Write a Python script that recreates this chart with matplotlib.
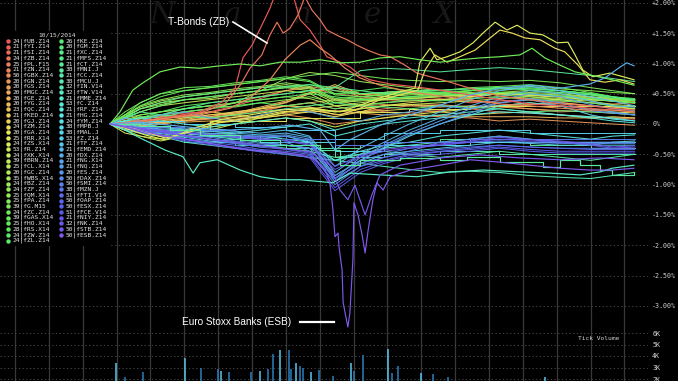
import matplotlib.pyplot as plt
from matplotlib.colors import hsv_to_rgb
from matplotlib.patches import Rectangle

plt.rcParams['font.family'] = 'DejaVu Sans Mono'

# legend entries (left column then right column)
left_names = ['fUB.Z14', 'fYI.Z14', 'fSI.Z14', 'fZB.Z14', 'fPL.F15', 'fZN.Z14', 'fGBX.Z14', 'fGN.Z14',
              'fGS.Z14', 'fMGC.Z14', 'fGE.Z14', 'fYG.Z14', 'fQC.Z14', 'fKED.Z14', 'fGJ.Z14', 'fZM.Z14',
              'fGA.Z14', 'fRR.X14', 'fZS.X14', 'fR.Z14', 'fXK.X14', 'fBRN.Z14', 'fCL.X14', 'fGC.Z14',
              'fWBS.X14', 'fBZ.Z14', 'fZF.Z14', 'fQM.X14', 'fPA.Z14', 'fG.M15', 'fZC.Z14', 'fGAS.X14',
              'fHO.X14', 'fRS.X14', 'fZW.Z14', 'fZL.Z14']
left_counts = [24, 21, 21, 24, 25, 21, 50, 20, 20, 20, 20, 20, 23, 21, 20, 24, 20, 25, 24, 53,
               24, 39, 25, 20, 35, 24, 24, 25, 25, 39, 24, 39, 25, 28, 24, 24]
right_names = ['fKE.Z14', 'fGM.Z14', 'fXC.Z14', 'fMFS.Z14', 'fCT.Z14', 'fMNI.J', 'fCC.Z14', 'fMCU.J',
               'fIN.V14', 'fTW.V14', 'fMME.Z14', 'fC.Z14', 'fRF.Z14', 'fHG.Z14', 'fYM.Z14', 'fMPB.J',
               'fMAL.J', 'fZ.Z14', 'fTF.Z14', 'fEMD.Z14', 'fDX.Z14', 'fNG.X14', 'fNQ.Z14', 'fES.Z14',
               'fDAX.Z14', 'fSMI.Z14', 'fMZN.J', 'fFTI.V14', 'fOAP.Z14', 'fESX.Z14', 'fFCE.V14',
               'fNIY.Z14', 'fNK.Z14', 'fSTB.Z14', 'fESB.Z14']
right_counts = [26, 20, 21, 21, 21, 38, 21, 38, 32, 32, 21, 53, 21, 21, 24, 38, 38, 53, 21, 21,
                20, 21, 21, 20, 50, 50, 38, 51, 50, 50, 51, 21, 32, 50, 50]

# common time grid (hours, ET) and % change for most contracts
T = [2.8, 3.25, 3.7, 4.3, 5.0, 5.75, 6.5, 7.25, 8.0, 8.7, 9.45, 10.2, 10.9, 11.65, 12.55, 13.45,
     14.3, 15.2, 16.1, 17.0, 17.65, 18.3]
grid_rows = {
    'fYI.Z14': [0, 0.05, 0.1, 0.12, 0.18, 0.2, 0.3, 0.42, 0.55, 0.6, 0.5, 0.45, 0.4, 0.38, 0.42, 0.35, 0.38, 0.4, 0.36, 0.3, 0.28, 0.25],
    'fSI.Z14': [0, -0.05, 0.02, 0.08, 0.05, 0.1, 0.15, 0.2, 0.3, 0.35, 0.25, 0.3, 0.2, 0.18, 0.22, 0.25, 0.2, 0.18, 0.15, 0.12, 0.1, 0.08],
    'fPL.F15': [0, 0.08, 0.12, 0.1, 0.15, 0.12, 0.2, 0.25, 0.3, 0.28, 0.15, 0.2, 0.25, 0.3, 0.32, 0.28, 0.3, 0.25, 0.2, 0.22, 0.18, 0.2],
    'fGBX.Z14': [0, 0.05, 0.1, 0.15, 0.2, 0.25, 0.35, 0.45, 0.55, 0.62, 0.55, 0.5, 0.45, 0.42, 0.4, 0.38, 0.35, 0.4, 0.38, 0.35, 0.33, 0.35],
    'fGN.Z14': [0, -0.03, 0.05, 0.0, 0.05, 0.08, 0.12, 0.1, 0.15, 0.1, 0.0, 0.05, 0.1, 0.15, 0.12, 0.1, 0.05, 0.08, 0.05, 0.02, 0.0, -0.02],
    'fGS.Z14': [0, 0.03, 0.08, 0.12, 0.1, 0.15, 0.18, 0.22, 0.3, 0.35, 0.4, 0.3, 0.32, 0.3, 0.28, 0.3, 0.28, 0.25, 0.22, 0.2, 0.18, 0.15],
    'fMGC.Z14': [0, 0.02, -0.05, 0.0, 0.05, 0.1, 0.15, 0.25, 0.35, 0.5, 0.6, 0.45, 0.5, 0.55, 0.5, 0.45, 0.5, 0.48, 0.45, 0.42, 0.4, 0.38],
    'fGE.Z14': [0, 0.0, 0.02, 0.02, 0.03, 0.05, 0.08, 0.12, 0.18, 0.2, 0.22, 0.18, 0.15, 0.15, 0.14, 0.12, 0.12, 0.12, 0.1, 0.1, 0.1, 0.1],
    'fYG.Z14': [0, 0.05, -0.02, 0.03, 0.08, 0.12, 0.18, 0.28, 0.38, 0.52, 0.62, 0.48, 0.52, 0.56, 0.5, 0.46, 0.52, 0.5, 0.46, 0.44, 0.42, 0.4],
    'fQC.Z14': [0, 0.03, -0.03, 0.02, 0.06, 0.1, 0.16, 0.26, 0.36, 0.5, 0.65, 0.5, 0.5, 0.54, 0.48, 0.44, 0.5, 0.47, 0.44, 0.4, 0.38, 0.36],
    'fKED.Z14': [0, 0.1, 0.05, 0.15, 0.12, 0.2, 0.15, 0.1, 0.2, 0.25, 0.3, 0.2, 0.22, 0.25, 0.2, 0.15, 0.18, 0.2, 0.15, 0.1, 0.12, 0.1],
    'fGJ.Z14': [0, -0.1, -0.05, 0.05, 0.1, 0.15, 0.2, 0.25, 0.3, 0.28, 0.2, 0.25, 0.3, 0.32, 0.3, 0.28, 0.3, 0.32, 0.35, 0.3, 0.28, 0.25],
    'fGA.Z14': [0, -0.05, -0.15, -0.2, -0.1, 0.0, 0.05, 0.1, 0.15, 0.2, 0.12, 0.2, 0.3, 0.35, 0.4, 0.45, 0.5, 0.48, 0.45, 0.4, 0.38, 0.35],
    'fRR.X14': [0, 0, -0.1, -0.1, -0.1, 0.05, 0.05, 0.05, 0.1, 0.1, 0.1, 0.2, 0.2, 0.25, 0.25, 0.3, 0.3, 0.3, 0.3, 0.3, 0.3, 0.3],
    'fR.Z14': [0, -0.15, -0.2, -0.25, -0.15, -0.05, 0.0, 0.05, 0.1, 0.05, -0.05, 0.05, 0.1, 0.15, 0.2, 0.25, 0.3, 0.35, 0.3, 0.25, 0.2, 0.18],
    'fXK.X14': [0, -0.1, -0.2, -0.28, -0.2, -0.1, 0.0, 0.1, 0.2, 0.25, 0.2, 0.25, 0.3, 0.32, 0.35, 0.38, 0.42, 0.45, 0.4, 0.35, 0.3, 0.25],
    'fBRN.Z14': [0, 0.1, 0.2, 0.3, 0.35, 0.4, 0.45, 0.5, 0.55, 0.5, 0.3, 0.32, 0.35, 0.38, 0.4, 0.42, 0.45, 0.42, 0.4, 0.38, 0.32, 0.3],
    'fCL.X14': [0, 0.12, 0.25, 0.35, 0.4, 0.42, 0.5, 0.55, 0.6, 0.55, 0.35, 0.38, 0.4, 0.42, 0.45, 0.48, 0.5, 0.48, 0.45, 0.42, 0.38, 0.35],
    'fGC.Z14': [0, 0.05, 0.15, 0.2, 0.25, 0.3, 0.35, 0.4, 0.45, 0.42, 0.3, 0.35, 0.4, 0.42, 0.45, 0.5, 0.52, 0.5, 0.48, 0.45, 0.42, 0.4],
    'fWBS.X14': [0, 0.15, 0.28, 0.38, 0.45, 0.5, 0.55, 0.6, 0.65, 0.6, 0.4, 0.42, 0.45, 0.48, 0.5, 0.52, 0.55, 0.52, 0.5, 0.45, 0.4, 0.38],
    'fBZ.Z14': [0, 0.12, 0.25, 0.32, 0.4, 0.45, 0.5, 0.55, 0.62, 0.58, 0.38, 0.4, 0.42, 0.44, 0.46, 0.5, 0.52, 0.5, 0.46, 0.42, 0.38, 0.35],
    'fZF.Z14': [0, 0.05, 0.1, 0.15, 0.2, 0.25, 0.35, 0.55, 0.75, 0.85, 0.8, 0.7, 0.65, 0.6, 0.55, 0.5, 0.48, 0.45, 0.42, 0.4, 0.38, 0.35],
    'fQM.X14': [0, 0.15, 0.3, 0.4, 0.48, 0.52, 0.58, 0.62, 0.68, 0.62, 0.42, 0.45, 0.48, 0.5, 0.52, 0.55, 0.58, 0.55, 0.52, 0.48, 0.42, 0.4],
    'fPA.Z14': [0, 0.1, 0.15, 0.2, 0.25, 0.3, 0.28, 0.35, 0.4, 0.45, 0.35, 0.4, 0.42, 0.45, 0.5, 0.55, 0.6, 0.62, 0.58, 0.55, 0.52, 0.5],
    'fG.M15': [0, 0.2, 0.35, 0.5, 0.55, 0.6, 0.65, 0.7, 0.75, 0.8, 0.85, 0.8, 0.75, 0.72, 0.7, 0.72, 0.7, 0.72, 0.68, 0.6, 0.55, 0.5],
    'fGAS.X14': [0, 0.15, 0.35, 0.5, 0.6, 0.62, 0.68, 0.72, 0.78, 0.72, 0.5, 0.5, 0.52, 0.55, 0.55, 0.6, 0.62, 0.65, 0.6, 0.52, 0.45, 0.4],
    'fHO.X14': [0, 0.12, 0.3, 0.45, 0.55, 0.6, 0.65, 0.7, 0.75, 0.7, 0.48, 0.45, 0.48, 0.5, 0.52, 0.55, 0.58, 0.6, 0.55, 0.5, 0.42, 0.38],
    'fRS.X14': [0, 0.05, 0.1, 0.2, 0.3, 0.35, 0.4, 0.45, 0.5, 0.55, 0.5, 0.55, 0.6, 0.55, 0.5, 0.55, 0.6, 0.58, 0.55, 0.5, 0.45, 0.42],
    'fZW.Z14': [0, -0.05, 0.05, 0.15, 0.25, 0.3, 0.35, 0.4, 0.45, 0.5, 0.45, 0.4, 0.42, 0.45, 0.48, 0.5, 0.52, 0.5, 0.46, 0.42, 0.38, 0.35],
    'fZL.Z14': [0, 0.05, 0.12, 0.1, 0.2, 0.25, 0.3, 0.35, 0.3, 0.35, 0.25, 0.3, 0.35, 0.4, 0.38, 0.42, 0.45, 0.4, 0.38, 0.35, 0.3, 0.28],
    'fKE.Z14': [0, 0.1, 0.2, 0.3, 0.4, 0.45, 0.5, 0.55, 0.6, 0.65, 0.55, 0.5, 0.52, 0.55, 0.56, 0.58, 0.6, 0.58, 0.55, 0.5, 0.45, 0.4],
    'fGM.Z14': [0, 0.05, 0.1, 0.15, 0.12, 0.1, 0.15, 0.2, 0.25, 0.3, 0.35, 0.3, 0.28, 0.25, 0.3, 0.28, 0.25, 0.2, 0.22, 0.2, 0.18, 0.15],
    'fXC.Z14': [0, 0.1, 0.25, 0.35, 0.45, 0.5, 0.55, 0.6, 0.62, 0.65, 0.6, 0.55, 0.5, 0.52, 0.55, 0.58, 0.6, 0.56, 0.52, 0.48, 0.44, 0.4],
    'fMFS.Z14': [0, 0, -0.1, -0.1, -0.15, -0.15, -0.2, -0.2, -0.25, -0.25, -0.4, -0.35, -0.3, -0.3, -0.25, -0.3, -0.3, -0.35, -0.35, -0.4, -0.4, -0.4],
    'fCT.Z14': [0, 0.1, 0.2, 0.15, 0.25, 0.35, 0.4, 0.45, 0.5, 0.55, 0.6, 0.88, 0.92, 0.9, 0.86, 0.9, 0.93, 0.9, 0.85, 0.8, 0.75, 0.7],
    'fCC.Z14': [0, -0.05, -0.1, -0.15, -0.2, -0.25, -0.3, -0.35, -0.4, -0.45, -0.55, -0.5, -0.45, -0.5, -0.55, -0.5, -0.45, -0.5, -0.55, -0.6, -0.55, -0.5],
    'fMCU.J': [0, 0, -0.15, -0.15, -0.3, -0.3, -0.35, -0.35, -0.4, -0.4, -0.55, -0.55, -0.5, -0.5, -0.45, -0.45, -0.5, -0.5, -0.5, -0.5, -0.5, -0.5],
    'fIN.V14': [0, -0.05, -0.1, -0.2, -0.3, -0.35, -0.4, -0.45, -0.5, -0.55, -0.6, -0.65, -0.7, -0.75, -0.8, -0.78, -0.8, -0.85, -0.88, -0.9, -0.85, -0.8],
    'fMME.Z14': [0, 0.02, -0.05, -0.1, -0.15, -0.2, -0.25, -0.3, -0.35, -0.4, -0.6, -0.5, -0.4, -0.35, -0.3, -0.25, -0.2, -0.25, -0.3, -0.35, -0.3, -0.28],
    'fC.Z14': [0, 0.05, 0.1, 0.05, 0.0, -0.05, 0.0, 0.05, 0.1, 0.05, -0.1, 0.0, 0.05, 0.1, 0.15, 0.2, 0.25, 0.2, 0.15, 0.12, 0.1, 0.05],
    'fRF.Z14': [0, 0.05, 0.02, -0.05, -0.1, -0.12, -0.15, -0.1, -0.05, 0.0, -0.2, -0.1, 0.0, 0.05, 0.1, 0.15, 0.2, 0.18, 0.15, 0.1, 0.05, 0.02],
    'fHG.Z14': [0, -0.1, -0.15, -0.2, -0.25, -0.3, -0.25, -0.2, -0.25, -0.3, -0.6, -0.45, -0.35, -0.3, -0.2, -0.15, -0.1, -0.15, -0.2, -0.25, -0.2, -0.18],
    'fYM.Z14': [0, -0.05, -0.1, -0.12, -0.15, -0.2, -0.22, -0.25, -0.2, -0.3, -0.85, -0.6, -0.4, -0.2, 0.0, 0.15, 0.3, 0.35, 0.3, 0.15, 0.08, 0.05],
    'fMPB.J': [0, 0, -0.1, -0.1, -0.2, -0.2, -0.2, -0.3, -0.3, -0.3, -0.45, -0.45, -0.35, -0.35, -0.35, -0.3, -0.3, -0.3, -0.3, -0.3, -0.3, -0.3],
    'fMAL.J': [0, 0, 0.05, 0.05, 0.0, 0.0, -0.05, -0.05, -0.1, -0.1, -0.25, -0.25, -0.15, -0.15, -0.1, -0.1, -0.1, -0.15, -0.15, -0.15, -0.15, -0.15],
    'fZ.Z14': [0, -0.05, -0.12, -0.18, -0.22, -0.28, -0.32, -0.38, -0.35, -0.4, -0.9, -0.65, -0.5, -0.45, -0.4, -0.35, -0.3, -0.32, -0.35, -0.35, -0.35, -0.35],
    'fTF.Z14': [0, 0.02, 0.0, -0.05, -0.08, -0.1, -0.12, -0.15, -0.1, -0.2, -0.7, -0.4, -0.2, 0.0, 0.2, 0.4, 0.55, 0.62, 0.55, 0.45, 0.38, 0.3],
    'fEMD.Z14': [0, -0.02, -0.05, -0.08, -0.1, -0.12, -0.15, -0.18, -0.15, -0.22, -0.8, -0.5, -0.3, -0.1, 0.1, 0.3, 0.45, 0.55, 0.5, 0.38, 0.3, 0.28],
    'fNG.X14': [0, 0.1, 0.05, 0.15, 0.2, 0.1, 0.05, 0.15, 0.25, 0.2, 0.1, 0.05, 0.15, 0.2, 0.3, 0.25, 0.35, 0.4, 0.3, 0.25, 0.2, 0.15],
    'fNQ.Z14': [0, -0.03, -0.06, -0.1, -0.12, -0.15, -0.18, -0.2, -0.18, -0.25, -0.9, -0.55, -0.35, -0.15, 0.05, 0.25, 0.4, 0.5, 0.45, 0.32, 0.25, 0.22],
    'fES.Z14': [0, -0.04, -0.08, -0.1, -0.14, -0.18, -0.2, -0.22, -0.2, -0.28, -0.95, -0.6, -0.38, -0.18, 0.0, 0.18, 0.35, 0.42, 0.35, 0.22, 0.18, 0.15],
    'fDAX.Z14': [0, -0.05, -0.1, -0.15, -0.2, -0.25, -0.3, -0.35, -0.3, -0.45, -1.0, -0.7, -0.55, -0.45, -0.3, -0.25, -0.2, -0.25, -0.3, -0.3, -0.3, -0.3],
    'fSMI.Z14': [0, -0.03, -0.08, -0.12, -0.18, -0.22, -0.28, -0.32, -0.35, -0.4, -0.85, -0.6, -0.5, -0.4, -0.35, -0.3, -0.28, -0.3, -0.32, -0.32, -0.32, -0.32],
    'fMZN.J': [0, 0, -0.05, -0.05, -0.1, -0.1, -0.2, -0.2, -0.25, -0.25, -0.35, -0.35, -0.3, -0.3, -0.3, -0.25, -0.25, -0.25, -0.25, -0.25, -0.25, -0.25],
    'fFTI.V14': [0, -0.06, -0.12, -0.18, -0.25, -0.3, -0.35, -0.42, -0.45, -0.5, -0.95, -0.7, -0.6, -0.5, -0.45, -0.4, -0.35, -0.38, -0.4, -0.4, -0.4, -0.4],
    'fOAP.Z14': [0, -0.05, -0.1, -0.14, -0.2, -0.26, -0.32, -0.38, -0.42, -0.48, -0.9, -0.65, -0.55, -0.48, -0.42, -0.38, -0.35, -0.38, -0.4, -0.42, -0.42, -0.42],
    'fESX.Z14': [0, -0.07, -0.14, -0.2, -0.28, -0.34, -0.4, -0.46, -0.5, -0.55, -1.1, -0.8, -0.65, -0.55, -0.5, -0.45, -0.4, -0.45, -0.48, -0.48, -0.48, -0.48],
    'fFCE.V14': [0, -0.06, -0.13, -0.19, -0.26, -0.32, -0.38, -0.44, -0.48, -0.52, -1.05, -0.75, -0.62, -0.52, -0.46, -0.42, -0.38, -0.42, -0.45, -0.45, -0.45, -0.45],
    'fNIY.Z14': [0, -0.05, -0.1, -0.12, -0.15, -0.18, -0.22, -0.25, -0.28, -0.35, -0.75, -0.55, -0.45, -0.4, -0.35, -0.3, -0.25, -0.28, -0.3, -0.35, -0.4, -0.38],
    'fNK.Z14': [0, -0.04, -0.08, -0.1, -0.14, -0.17, -0.2, -0.24, -0.27, -0.33, -0.7, -0.52, -0.42, -0.38, -0.33, -0.28, -0.22, -0.26, -0.28, -0.33, -0.38, -0.36],
}

# contracts read with more detail
ub_t = [2.81, 3.69, 4.58, 5.46, 6.11, 6.50, 6.73, 7.00, 7.29, 7.53, 7.71, 7.97, 8.21, 8.42, 8.71, 9.01,
        9.21, 9.60, 9.89, 10.19, 10.48, 11.08, 11.87, 12.55, 13.44, 14.32, 15.21, 16.10, 16.98, 17.63, 18.28]
ub_v = [0.0, 0.05, 0.12, 0.2, 0.36, 0.59, 1.09, 1.3, 1.63, 1.91, 2.18, 2.38, 2.13, 1.72, 1.55, 1.3,
        1.11, 1.02, 0.94, 0.81, 0.73, 0.66, 0.61, 0.56, 0.48, 0.4, 0.33, 0.3, 0.26, 0.23, 0.2]
zb_t = [2.81, 3.69, 4.58, 5.46, 6.20, 6.65, 6.94, 7.29, 7.53, 7.74, 7.92, 8.12, 8.36, 8.56, 8.77, 9.01, 9.21,
        9.60, 9.81, 10.10, 10.40, 10.78, 11.08, 11.52, 11.87, 12.26, 12.85, 13.44, 14.32, 15.21, 16.10,
        16.98, 17.63, 18.28]
zb_v = [0.0, 0.03, 0.1, 0.18, 0.33, 0.64, 0.92, 1.14, 1.47, 1.68, 1.5, 1.58, 1.8, 2.1, 1.88, 1.72, 1.55,
        1.44, 1.39, 1.3, 1.22, 1.14, 1.11, 0.97, 0.84, 0.78, 0.69, 0.59, 0.46, 0.4, 0.33, 0.3, 0.26, 0.23]
zn_t = [2.81, 3.69, 4.58, 5.46, 6.35, 6.94, 7.53, 7.97, 8.42, 8.71, 9.01, 9.30, 9.75, 10.19, 10.78, 11.67,
        12.55, 13.44, 14.32, 15.21, 16.10, 16.98, 17.63, 18.28]
zn_v = [0, 0.05, 0.1, 0.15, 0.26, 0.43, 0.73, 1.06, 1.3, 1.39, 1.25, 1.14, 0.92, 0.76, 0.64, 0.53,
        0.46, 0.4, 0.33, 0.3, 0.26, 0.23, 0.23, 0.2]
zs_t = [2.81, 3.25, 3.84, 4.43, 5.17, 6.05, 6.94, 7.83, 8.71, 9.60, 10.19, 10.78, 11.37, 11.81, 11.96,
        12.26, 12.46, 12.76, 13.14, 13.53, 13.82, 14.18, 14.53, 14.83, 15.21, 15.59, 16.01, 16.33, 16.54,
        16.77, 17.07, 17.57, 18.28]
zs_v = [0, -0.07, -0.18, -0.26, -0.1, 0.07, 0.15, 0.23, 0.26, 0.2, 0.31, 0.43, 0.53, 0.59, 1.02,
        1.25, 1.06, 1.11, 1.19, 1.34, 1.5, 1.68, 1.55, 1.63, 1.5, 1.47, 1.34, 1.35, 1.14, 0.89, 0.78, 0.84, 0.73]
zm_t = [2.81, 3.25, 3.84, 4.43, 5.17, 6.05, 6.94, 7.83, 8.71, 9.60, 10.19, 10.78, 11.37, 11.90, 12.11,
        12.40, 12.76, 13.14, 13.59, 14.03, 14.32, 14.68, 15.06, 15.51, 15.95, 16.24, 16.63, 16.98, 17.42,
        17.87, 18.28]
zm_v = [0, -0.03, -0.13, -0.23, -0.13, 0.03, 0.1, 0.2, 0.23, 0.15, 0.26, 0.4, 0.48, 0.56, 0.89,
        1.14, 1.02, 1.11, 1.22, 1.42, 1.55, 1.5, 1.42, 1.39, 1.25, 1.19, 0.97, 0.73, 0.69, 0.73, 0.66]
zc_t = [2.81, 3.10, 3.31, 3.48, 3.78, 4.28, 4.87, 5.46, 6.05, 6.65, 7.24, 7.83, 8.42, 9.01, 9.60, 10.19,
        10.78, 11.37, 11.96, 12.55, 13.14, 13.73, 14.32, 14.91, 15.27, 15.65, 16.10, 16.54, 16.98, 17.63, 18.28]
zc_v = [0, 0.2, 0.4, 0.56, 0.68, 0.86, 0.94, 0.92, 0.96, 0.99, 0.96, 1.02, 1.02, 1.06, 1.01, 1.02,
        1.09, 1.11, 1.06, 1.02, 1.06, 1.09, 1.11, 1.14, 1.25, 1.09, 0.97, 0.86, 0.81, 0.73, 0.64]
mni_t = [2.81, 3.69, 4.58, 5.46, 6.65, 7.83, 9.01, 9.60, 10.19, 11.37, 12.55, 13.35, 14.32, 15.59, 16.10,
         16.69, 17.28, 17.63, 18.28]
mni_v = [0, -0.03, -0.1, -0.18, -0.26, -0.35, -0.43, -0.68, -0.59, -0.56, -0.59, -0.54, -0.63, -0.71,
         -0.59, -0.68, -0.76, -0.84, -0.79]
tw_t = [2.81, 3.25, 3.69, 3.99, 4.43, 4.96, 5.26, 5.46, 5.97, 6.65, 7.24, 7.83, 8.42, 9.39, 9.89, 10.78,
        11.87, 12.85, 13.82, 14.91, 15.80, 16.69, 17.28, 17.63, 18.28]
tw_v = [0, -0.1, -0.23, -0.31, -0.43, -0.54, -0.81, -0.64, -0.59, -0.76, -0.87, -0.92, -0.92, -0.97,
        -0.81, -0.84, -0.87, -0.79, -0.76, -0.79, -0.81, -0.84, -0.79, -0.73, -0.68]
dx_t = [2.81, 3.69, 4.58, 5.46, 6.35, 7.24, 8.12, 9.01, 9.45, 9.89, 10.78, 11.67, 12.55, 13.44, 14.32,
        15.21, 16.10, 16.98, 17.42, 17.87, 18.07, 18.28]
dx_v = [0, 0.03, -0.02, -0.07, -0.1, -0.07, -0.02, -0.1, -0.43, -0.26, -0.02, 0.15, 0.31, 0.48, 0.59,
        0.64, 0.59, 0.66, 0.76, 0.94, 1.01, 0.96]
stb_t = [2.81, 3.69, 4.58, 5.46, 6.65, 7.83, 8.71, 9.30, 9.60, 9.83, 10.04, 10.34, 10.54, 10.78, 11.37,
         12.55, 13.73, 14.91, 16.10, 17.28, 18.28]
stb_v = [0, -0.07, -0.15, -0.23, -0.31, -0.4, -0.46, -0.68, -1.09, -1.25, -1.01, -1.5, -1.17, -0.84,
         -0.68, -0.56, -0.51, -0.56, -0.59, -0.56, -0.59]
esb_t = [2.81, 3.40, 4.28, 5.17, 6.05, 6.94, 7.83, 8.42, 8.86, 9.16, 9.30, 9.39, 9.45, 9.54, 9.57, 9.66,
         9.69, 9.75, 9.83, 9.89, 9.98, 10.01, 10.13, 10.25, 10.34, 10.43, 10.57, 10.69, 10.87, 11.08,
         11.67, 12.55, 13.44, 14.32, 15.21, 16.10, 16.98, 17.63, 18.28]
esb_v = [0, -0.07, -0.18, -0.26, -0.35, -0.43, -0.46, -0.51, -0.59, -0.76, -0.97, -1.42, -1.86, -1.8,
         -2.03, -2.41, -2.94, -3.12, -3.35, -3.12, -2.24, -1.3, -1.5, -1.83, -2.13, -1.75, -1.25, -0.97,
         -1.09, -0.87, -0.76, -0.68, -0.59, -0.63, -0.68, -0.73, -0.76, -0.76, -0.73]
detail = {'fUB.Z14': (ub_t, ub_v), 'fZB.Z14': (zb_t, zb_v), 'fZN.Z14': (zn_t, zn_v),
          'fZS.X14': (zs_t, zs_v), 'fZM.Z14': (zm_t, zm_v), 'fZC.Z14': (zc_t, zc_v),
          'fMNI.J': (mni_t, mni_v), 'fTW.V14': (tw_t, tw_v), 'fDX.Z14': (dx_t, dx_v),
          'fSTB.Z14': (stb_t, stb_v), 'fESB.Z14': (esb_t, esb_v)}

# tick volume (thousands)
vol_t = [2.98, 3.25, 3.78, 5.02, 5.49, 6.0, 6.08, 6.32, 6.97, 7.24, 7.47, 7.62, 7.83, 8.09, 8.15, 8.30,
         8.42, 8.51, 8.74, 8.98, 9.4, 9.92, 10.01, 10.28, 11.02, 11.13, 11.31, 11.99, 12.34, 12.79, 15.65]
vol_k = [3.4, 2.2, 2.6, 3.8, 3.0, 2.9, 2.7, 2.6, 2.6, 2.7, 2.9, 4.2, 4.5, 4.5, 2.9, 3.4,
         3.1, 3.0, 2.6, 2.8, 2.3, 3.4, 2.7, 4.1, 4.6, 2.5, 3.1, 2.5, 2.4, 2.2, 2.2]

W, H = 678, 381
names = left_names + right_names
n = len(names)
colors = [hsv_to_rgb((0.71 * i / (n - 1), 0.62, 0.92)) for i in range(n)]

fig = plt.figure(figsize=(W / 100, H / 100), dpi=100, facecolor='black')
ax = fig.add_axes([0, 0, 648 / W, 1])
ax.set_facecolor('black')
ax.set_xlim(-15 / 33.86, 633 / 33.86)
ax.set_ylim(-257 / 60.6, 124 / 60.6)
for s in ax.spines.values():
    s.set_visible(False)

# volume pane shares the time axis
vax = ax.twinx()
vax.set_ylim(21 / 11.5, 402 / 11.5)

pct_ticks = [2, 1.5, 1, 0.5, 0, -0.5, -1, -1.5, -2, -2.5, -3]
ax.set_yticks(pct_ticks)
ax.set_yticklabels(['0%' if v == 0 else f'{v:+.2f}%' for v in pct_ticks])
ax.set_xticks(range(19))
ax.yaxis.tick_right()
ax.tick_params(axis='y', length=0, pad=3, labelsize=4.8, labelcolor='#d0d0d0',
               labelright=True, labelleft=False)
ax.tick_params(axis='x', length=0, labelbottom=False)
ax.grid(axis='x', color='#383838', lw=0.9, ls='-')
ax.grid(axis='y', color='#4a4a4a', lw=0.7, ls=(0, (1.2, 2.6)))
ax.set_axisbelow(True)

# watermark
for ch, px in zip(['N', 'a', 'n', 'e', 'X'], [162, 232, 302, 372, 444]):
    ax.text(px / 648, 1 - 15 / H, ch, transform=ax.transAxes, ha='center', va='center',
            fontsize=21, family='DejaVu Serif', style='italic', color='#181818', zorder=0.6)

steps = ('fMCU.J', 'fMPB.J', 'fMAL.J', 'fMZN.J', 'fMNI.J', 'fRR.X14', 'fMFS.Z14')
for name, c in zip(names, colors):
    if name in detail:
        continue
    ax.plot(T, grid_rows[name], color=c, lw=0.75, alpha=0.95, zorder=2,
            drawstyle='steps-post' if name in steps else 'default')
for name, c in zip(names, colors):
    if name in detail:
        t, v = detail[name]
        ax.plot(t, v, color=c, lw=0.85, zorder=3,
                drawstyle='steps-post' if name in steps else 'default')

vax.set_yticks([6, 5, 4, 3, 2])
vax.set_yticklabels(['6K', '5K', '4K', '3K', '2K'])
vax.tick_params(axis='y', length=0, pad=3, labelsize=4.8, labelcolor='#d0d0d0')
vax.grid(axis='y', color='#4a4a4a', lw=0.7, ls=(0, (1.2, 2.6)))
for s in vax.spines.values():
    s.set_visible(False)
vcols = ['#2c7fbf' if i % 3 else '#5cc8ee' for i in range(len(vol_t))]
vax.vlines(vol_t, 0, vol_k, colors=vcols, lw=1.1)

# overlay in pixel coordinates: legend and annotations
ov = fig.add_axes([0, 0, 1, 1])
ov.set_xlim(0, W)
ov.set_ylim(H, 0)
ov.axis('off')
ov.add_patch(Rectangle((0, 31), 108, 214, color='black', zorder=1))
ov.text(57, 35, '10/15/2014', ha='center', va='center', fontsize=4.5, color='#e0e0e0', zorder=2)
for col, (nm, cn, x0) in enumerate([(left_names, left_counts, 8.3), (right_names, right_counts, 61)]):
    for i, (a, b) in enumerate(zip(nm, cn)):
        y = 41 + 5.7 * i
        ov.plot(x0, y, 'o', ms=3.2, mec='none', color=colors[i + col * len(left_names)], zorder=2)
        ov.text(x0 + 4.4, y, f'{b}|{a}', ha='left', va='center', fontsize=4.5, color='#e6e6e6', zorder=2)

ov.text(199, 22, 'T-Bonds (ZB)', ha='center', va='center', fontsize=7.4,
        family='Liberation Sans', color='white')
ov.plot([233, 267], [22, 43], color='white', lw=1.2)
ov.text(237, 322, 'Euro Stoxx Banks (ESB)', ha='center', va='center', fontsize=7.2,
        family='Liberation Sans', color='white')
ov.plot([300, 334], [322, 322], color='white', lw=1.6)
ov.text(578, 338, 'Tick Volume', ha='left', va='center', fontsize=4.5, color='#d0d0d0')

fig.savefig('out.png', dpi=100, facecolor='black')
